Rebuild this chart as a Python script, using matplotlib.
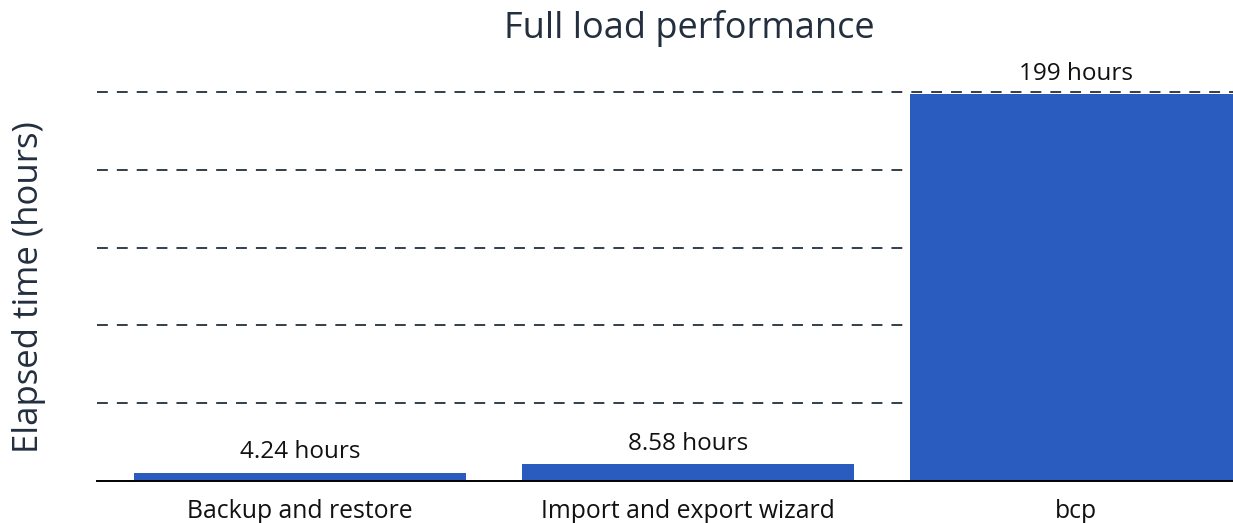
import matplotlib.pyplot as plt

plt.rcParams['font.family'] = ['Open Sans', 'DejaVu Sans']

# data
categories = ["Backup and restore", "Import and export wizard", "bcp"]
hours = [4.24, 8.58, 199]
value_labels = ["4.24 hours", "8.58 hours", "199 hours"]
grid_ticks = [40, 80, 120, 160, 200]

NAVY = "#232f3e"
BAR = "#2a5bbf"


def main():
    fig = plt.figure(figsize=(12.33, 5.23), dpi=100)
    ax = fig.add_axes([0.0787, 0.0803, 0.9213, 0.805])

    x = range(len(categories))
    bars = ax.bar(x, hours, width=0.857, color=BAR, zorder=2)

    for rect, lab in zip(bars, value_labels):
        ax.annotate(lab, (rect.get_x() + rect.get_width() / 2, rect.get_height()),
                    xytext=(0, 6), textcoords="offset points",
                    ha="center", va="bottom", fontsize=17.5, color="#111111")

    ax.set_xlim(-0.524, 2.405)
    ax.set_ylim(0, 216.5)
    ax.set_yticks(grid_ticks)
    ax.set_yticklabels([])
    ax.set_xticks(list(x))
    ax.set_xticklabels(categories, fontsize=17.8, color="#111111")
    ax.tick_params(axis="both", length=0)
    ax.tick_params(axis="x", pad=13)

    ax.yaxis.grid(True, linestyle=(0, (6, 5)), color=NAVY, linewidth=1.3)
    ax.set_axisbelow(True)

    for side in ("top", "right", "left"):
        ax.spines[side].set_visible(False)
    ax.spines["bottom"].set_color("black")
    ax.spines["bottom"].set_linewidth(1.4)
    ax.spines["bottom"].set_zorder(3)

    ax.set_ylabel("Elapsed time (hours)", fontsize=25, color=NAVY)
    ax.yaxis.set_label_coords(-0.045, 0.46)
    fig.text(0.559, 0.946, "Full load performance", ha="center", va="center",
             fontsize=26, color=NAVY)

    fig.savefig("out.png", dpi=100)
    plt.close(fig)


if __name__ == "__main__":
    main()
